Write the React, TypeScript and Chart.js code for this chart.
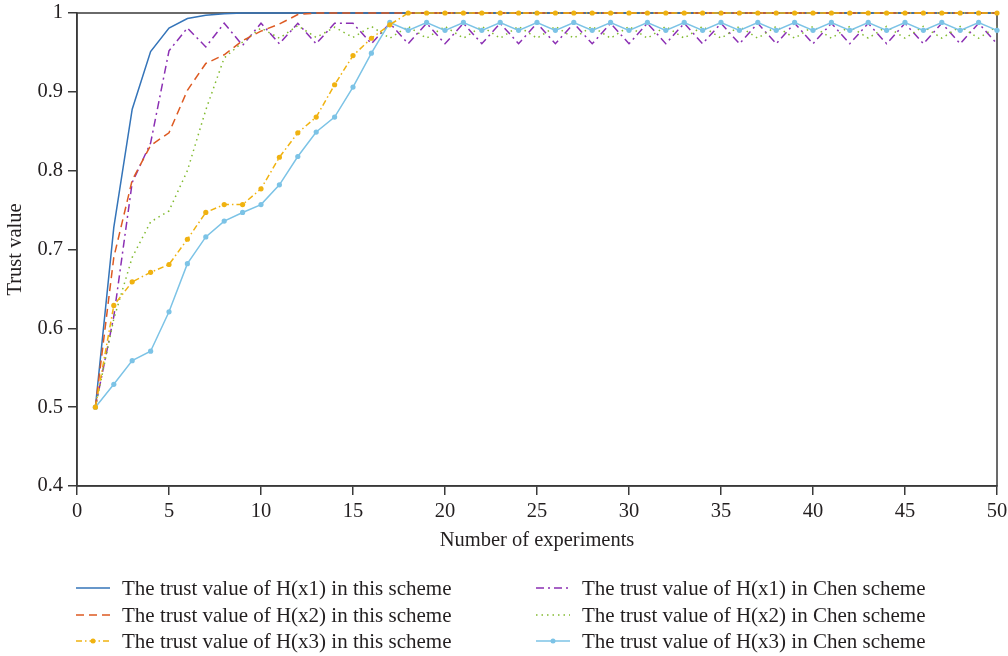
import React, { useEffect, useRef } from "react";
import { Chart, registerables } from "chart.js";

Chart.register(...registerables);

// ---- data ----
const experiments = [
  1, 2, 3, 4, 5, 6, 7, 8, 9, 10, 11, 12, 13, 14, 15, 16, 17, 18, 19, 20, 21, 22, 23, 24, 25,
  26, 27, 28, 29, 30, 31, 32, 33, 34, 35, 36, 37, 38, 39, 40, 41, 42, 43, 44, 45, 46, 47, 48, 49, 50,
];

const thisX1 = [
  0.5, 0.728, 0.878, 0.951, 0.981, 0.993, 0.997, 0.999, 1, 1,
  1, 1, 1, 1, 1, 1, 1, 1, 1, 1,
  1, 1, 1, 1, 1, 1, 1, 1, 1, 1,
  1, 1, 1, 1, 1, 1, 1, 1, 1, 1,
  1, 1, 1, 1, 1, 1, 1, 1, 1, 1,
];

const thisX2 = [
  0.5, 0.69, 0.788, 0.832, 0.848, 0.902, 0.936, 0.947, 0.965, 0.977,
  0.986, 0.998, 1, 1, 1, 1, 1, 1, 1, 1,
  1, 1, 1, 1, 1, 1, 1, 1, 1, 1,
  1, 1, 1, 1, 1, 1, 1, 1, 1, 1,
  1, 1, 1, 1, 1, 1, 1, 1, 1, 1,
];

const thisX3 = [
  0.5, 0.629, 0.659, 0.671, 0.681, 0.713, 0.747, 0.757, 0.757, 0.777,
  0.817, 0.848, 0.868, 0.909, 0.946, 0.968, 0.985, 1, 1, 1,
  1, 1, 1, 1, 1, 1, 1, 1, 1, 1,
  1, 1, 1, 1, 1, 1, 1, 1, 1, 1,
  1, 1, 1, 1, 1, 1, 1, 1, 1, 1,
];

const chenX1 = [
  0.5, 0.615, 0.785, 0.835, 0.952, 0.981, 0.957, 0.987, 0.959, 0.987,
  0.961, 0.987, 0.961, 0.987, 0.987, 0.961, 0.987, 0.961, 0.987, 0.961,
  0.987, 0.961, 0.987, 0.961, 0.987, 0.961, 0.987, 0.961, 0.987, 0.961,
  0.987, 0.961, 0.987, 0.961, 0.987, 0.961, 0.987, 0.961, 0.987, 0.961,
  0.987, 0.961, 0.987, 0.961, 0.987, 0.961, 0.987, 0.961, 0.987, 0.961,
];

const chenX2 = [
  0.5, 0.612, 0.69, 0.735, 0.749, 0.8, 0.877, 0.943, 0.963, 0.981,
  0.968, 0.984, 0.969, 0.982, 0.969, 0.983, 0.968, 0.983, 0.968, 0.983,
  0.968, 0.983, 0.968, 0.983, 0.968, 0.983, 0.968, 0.983, 0.968, 0.983,
  0.968, 0.983, 0.968, 0.983, 0.968, 0.983, 0.968, 0.983, 0.968, 0.983,
  0.968, 0.983, 0.968, 0.983, 0.968, 0.983, 0.968, 0.983, 0.968, 0.983,
];

const chenX3 = [
  0.5, 0.529, 0.559, 0.571, 0.621, 0.682, 0.716, 0.736, 0.747, 0.757,
  0.782, 0.818, 0.849, 0.868, 0.906, 0.949, 0.988, 0.978, 0.988, 0.978,
  0.988, 0.978, 0.988, 0.978, 0.988, 0.978, 0.988, 0.978, 0.988, 0.978,
  0.988, 0.978, 0.988, 0.978, 0.988, 0.978, 0.988, 0.978, 0.988, 0.978,
  0.988, 0.978, 0.988, 0.978, 0.988, 0.978, 0.988, 0.978, 0.988, 0.978,
];

const yTicks = [0.4, 0.5, 0.6, 0.7, 0.8, 0.9, 1];

const FONT = '"Liberation Serif", "Times New Roman", serif';
const TEXT = "#231f20";
const AXIS = "#3a3a3a";
const TICK_SIZE = 20.5;
const LEGEND_SIZE = 21;

type Item = {
  label: string;
  data: number[];
  color: string;
  dash: number[];
  marker: boolean;
};

const series: Item[] = [
  { label: "The trust value of H(x1) in this scheme", data: thisX1, color: "#3474b9", dash: [], marker: false },
  { label: "The trust value of H(x2) in this scheme", data: thisX2, color: "#dd5a22", dash: [8, 5], marker: false },
  { label: "The trust value of H(x3) in this scheme", data: thisX3, color: "#f0b210", dash: [6, 3, 1.5, 3], marker: true },
  { label: "The trust value of H(x1) in Chen scheme", data: chenX1, color: "#8b2fb3", dash: [8, 4, 2, 4], marker: false },
  { label: "The trust value of H(x2) in Chen scheme", data: chenX2, color: "#82bb30", dash: [1.5, 4], marker: false },
  { label: "The trust value of H(x3) in Chen scheme", data: chenX3, color: "#7cc3e6", dash: [], marker: true },
];

// drawing order (later = drawn on top)
const drawOrder = [3, 4, 0, 1, 5, 2];

const framePlugin = {
  id: "frameAndLegend",
  beforeDatasetsDraw(chart: any) {
    const { ctx, chartArea: a } = chart;
    ctx.save();
    ctx.strokeStyle = AXIS;
    ctx.lineWidth = 1.5;
    ctx.setLineDash([]);
    ctx.strokeRect(a.left, a.top, a.right - a.left, a.bottom - a.top);
    ctx.restore();
  },
  afterDraw(chart: any) {
    const { ctx } = chart;
    ctx.save();
    const cols = [76, 536];
    const rows = [588, 615, 641];
    const sampleLen = 34;
    series.forEach((s, i) => {
      const col = i < 3 ? 0 : 1;
      const row = i % 3;
      const x0 = cols[col];
      const y = rows[row];
      ctx.strokeStyle = s.color;
      ctx.lineWidth = 1.5;
      ctx.setLineDash(s.dash);
      ctx.beginPath();
      ctx.moveTo(x0, y);
      ctx.lineTo(x0 + sampleLen, y);
      ctx.stroke();
      ctx.setLineDash([]);
      if (s.marker) {
        ctx.fillStyle = s.color;
        ctx.beginPath();
        ctx.arc(x0 + sampleLen / 2, y, 2.5, 0, Math.PI * 2);
        ctx.fill();
      }
      ctx.fillStyle = TEXT;
      ctx.font = `${LEGEND_SIZE}px ${FONT}`;
      ctx.textBaseline = "middle";
      ctx.textAlign = "left";
      ctx.fillText(s.label, x0 + 46, y + 1);
    });
    ctx.restore();
  },
};

export default function App() {
  const canvasRef = useRef<HTMLCanvasElement | null>(null);

  useEffect(() => {
    if (!canvasRef.current) return;
    Chart.defaults.font.family = FONT;
    Chart.defaults.font.size = TICK_SIZE;
    Chart.defaults.color = TEXT;

    const datasets = drawOrder.map((idx, k) => {
      const s = series[idx];
      return {
        label: s.label,
        data: s.data,
        borderColor: s.color,
        backgroundColor: s.color,
        borderWidth: 1.5,
        borderDash: s.dash,
        pointRadius: s.marker ? 2.6 : 0,
        pointBorderWidth: 0,
        pointBackgroundColor: s.color,
        pointHoverRadius: 0,
        tension: 0,
        fill: false,
        clip: 8,
        order: drawOrder.length - k,
      };
    });

    const chart = new Chart(canvasRef.current, {
      type: "line",
      data: { labels: experiments, datasets },
      options: {
        animation: false,
        responsive: true,
        maintainAspectRatio: false,
        events: [],
        layout: { padding: { top: 13, right: 11, bottom: 100, left: 0 } },
        plugins: {
          legend: { display: false },
          tooltip: { enabled: false },
        },
        scales: {
          x: {
            type: "linear",
            min: 0,
            max: 50,
            ticks: { stepSize: 5, padding: 4, color: TEXT, font: { size: TICK_SIZE } },
            grid: { drawOnChartArea: false, drawTicks: true, tickLength: 9, color: AXIS, lineWidth: 1.5 },
            border: { display: true, color: AXIS, width: 1.5 },
            title: { display: true, text: "Number of experiments", color: TEXT, font: { size: TICK_SIZE }, padding: { top: 4, bottom: 3 } },
            afterFit: (scale: any) => {
              scale.height = 70;
              scale.paddingLeft = 0;
              scale.paddingRight = 0;
            },
          },
          y: {
            min: 0.4,
            max: 1,
            afterBuildTicks: (scale: any) => {
              scale.ticks = yTicks.map((v) => ({ value: v }));
            },
            ticks: {
              padding: 5,
              color: TEXT,
              font: { size: TICK_SIZE },
              callback: (v: any) => String(Math.round(Number(v) * 10) / 10),
            },
            grid: { drawOnChartArea: false, drawTicks: true, tickLength: 9, color: AXIS, lineWidth: 1.5 },
            border: { display: true, color: AXIS, width: 1.5 },
            title: { display: true, text: "Trust value", color: TEXT, font: { size: TICK_SIZE }, padding: { top: 3, bottom: 4 } },
            afterFit: (scale: any) => {
              scale.width = 77;
              scale.paddingTop = 0;
              scale.paddingBottom = 0;
            },
          },
        },
      },
      plugins: [framePlugin],
    } as any);

    return () => chart.destroy();
  }, []);

  return (
    <div style={{ position: "absolute", left: 0, top: 0, width: 1008, height: 656, background: "#fff" }}>
      <canvas ref={canvasRef} />
    </div>
  );
}
